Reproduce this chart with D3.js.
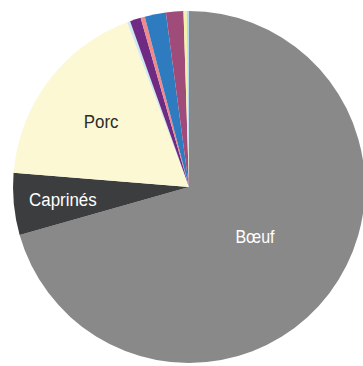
<!DOCTYPE html>
<html>
<head>
<meta charset="utf-8">
<script src="https://cdn.jsdelivr.net/npm/d3@7"></script>
<style>
  html, body { margin: 0; padding: 0; background: #ffffff; }
  svg { display: block; }
  text { font-family: "Liberation Sans", Arial, sans-serif; }
</style>
</head>
<body>
<svg id="chart" width="363" height="366"></svg>
<script>
const categories = ["Bœuf", "Caprinés", "Porc", "Lapin", "Ovins", "Cheval", "Volaille", "Dinde", "Gibier", "Autres"];
const values = [70.6, 5.67, 18.0, 0.28, 1.0, 0.39, 1.94, 1.6, 0.3, 0.2];
const colors = ["#898989", "#3c3d3f", "#fbf8d3", "#cfe9f1", "#6f2a84", "#ee8a8a", "#2f7bbf", "#a04c7b", "#f7f0a8", "#b5d9ee"];
const shownLabels = ["Bœuf", "Caprinés", "Porc"];
const labelColors = { "Bœuf": "#ffffff", "Caprinés": "#ffffff", "Porc": "#2b2b2b" };
const labelRadiusFactor = { "Bœuf": 0.47, "Caprinés": 0.72, "Porc": 0.625 };
const labelSize = { "Bœuf": 18, "Caprinés": 19, "Porc": 19 };

const svg = d3.select("#chart");
const cx = 189, cy = 187, r = 176;
const g = svg.append("g").attr("transform", `translate(${cx},${cy})`);

const data = categories.map((c, i) => ({ name: c, value: values[i], color: colors[i] }));
const pie = d3.pie().value(d => d.value).sort(null);
const arcs = pie(data);
const arc = d3.arc().innerRadius(0).outerRadius(r);

g.selectAll("path.slice")
  .data(arcs)
  .enter().append("path")
  .attr("class", "slice")
  .attr("d", arc)
  .attr("fill", d => d.data.color);

arcs.filter(d => shownLabels.includes(d.data.name)).forEach(d => {
  const lr = r * labelRadiusFactor[d.data.name];
  const la = d3.arc().innerRadius(lr).outerRadius(lr);
  const [x, y] = la.centroid(d);
  g.append("text")
    .attr("transform", `translate(${x},${y}) scale(0.89,1)`)
    .attr("text-anchor", "middle")
    .attr("dy", "0.36em")
    .attr("font-size", labelSize[d.data.name])
    .attr("fill", labelColors[d.data.name])
    .text(d.data.name);
});
</script>
</body>
</html>
